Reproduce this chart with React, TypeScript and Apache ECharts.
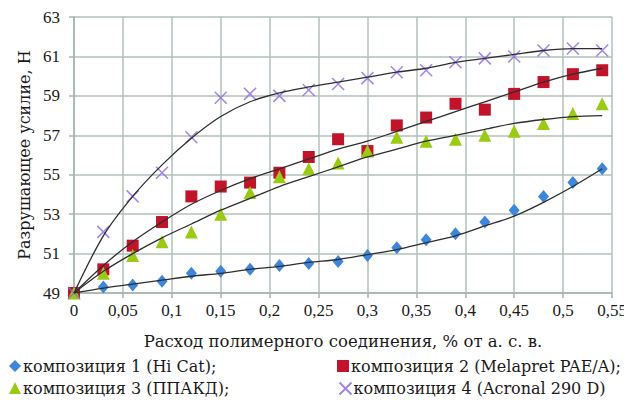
import React, { useEffect, useRef } from "react";
import * as echarts from "echarts";

const xValues = [0, 0.03, 0.06, 0.09, 0.12, 0.15, 0.18, 0.21, 0.24, 0.27, 0.3, 0.33, 0.36, 0.39, 0.42, 0.45, 0.48, 0.51, 0.54];

const seriesNames = [
  "композиция 1 (Hi Cat);",
  "композиция 2 (Melapret PAE/A);",
  "композиция 3 (ППАКД);",
  "композиция 4 (Acronal 290 D)",
];

const s1 = [49, 49.3, 49.4, 49.6, 50.0, 50.1, 50.2, 50.4, 50.5, 50.6, 50.9, 51.3, 51.7, 52.0, 52.6, 53.2, 53.9, 54.6, 55.3];
const s2 = [49, 50.2, 51.4, 52.6, 53.9, 54.4, 54.6, 55.1, 55.9, 56.8, 56.2, 57.5, 57.9, 58.6, 58.3, 59.1, 59.7, 60.1, 60.3];
const s3 = [49, 50.0, 50.9, 51.6, 52.1, 53.0, 54.1, 54.9, 55.3, 55.6, 56.2, 56.9, 56.7, 56.8, 57.0, 57.2, 57.6, 58.1, 58.6];
const s4 = [49, 52.1, 53.9, 55.1, 56.9, 58.9, 59.1, 59.0, 59.3, 59.6, 59.9, 60.2, 60.3, 60.7, 60.9, 61.0, 61.3, 61.4, 61.3];

// trend lines
const t1 = [49, 49.25, 49.45, 49.65, 49.85, 50.0, 50.2, 50.35, 50.55, 50.7, 50.95, 51.2, 51.55, 51.9, 52.4, 52.9, 53.6, 54.4, 55.3];
const t2 = [49, 50.4, 51.6, 52.6, 53.5, 54.2, 54.8, 55.3, 55.8, 56.3, 56.7, 57.2, 57.7, 58.2, 58.7, 59.2, 59.7, 60.1, 60.4];
const t3 = [49, 50.1, 51.0, 51.8, 52.5, 53.2, 53.8, 54.4, 54.9, 55.4, 55.9, 56.3, 56.7, 57.0, 57.3, 57.6, 57.8, 57.95, 58.0];
const t4 = [49, 51.9, 53.9, 55.5, 56.85, 57.95, 58.7, 59.15, 59.45, 59.7, 59.95, 60.2, 60.4, 60.7, 60.9, 61.1, 61.3, 61.4, 61.4];

const colors = ["#3d86d9", "#c1142b", "#9acb12", "#8c67e0"];
const symbols = [
  "diamond",
  "rect",
  "triangle",
  "path://M0,0 L10,10 M10,0 L0,10",
];
const symbolSizes: any[] = [[11, 13], 12, 13, 12];

const NAME_FONT = "DejaVu Serif";
const TICK_FONT = "Liberation Serif";

export default function App() {
  const ref = useRef<HTMLDivElement>(null);
  useEffect(() => {
    if (!ref.current) return;
    const chart = echarts.init(ref.current, null, { renderer: "svg" });
    const pts = [s1, s2, s3, s4];
    const trends = [t1, t2, t3, t4];
    const scatterSeries = pts.map((arr, i) => ({
      name: seriesNames[i],
      type: "scatter",
      data: arr.map((v, j) => [xValues[j], v]),
      symbol: symbols[i],
      symbolSize: symbolSizes[i],
      z: 2,
      itemStyle:
        i === 3
          ? { color: "none", borderColor: colors[i], borderWidth: 1.5 }
          : { color: colors[i], opacity: 1 },
    }));
    const lineSeries = trends.map((arr, i) => ({
      name: "trend" + i,
      type: "line",
      data: arr.map((v, j) => [xValues[j], v]),
      showSymbol: false,
      symbol: "none",
      smooth: 0.3,
      z: 3,
      silent: true,
      lineStyle: { color: "#2e2e2e", width: 1.3 },
    }));
    const legendPos = [
      [9, 358],
      [337, 358],
      [9, 380],
      [337, 380],
    ];
    chart.setOption({
      animation: false,
      backgroundColor: "#ffffff",
      grid: { left: 74, right: 20, top: 17, bottom: 112, containLabel: false },
      legend: seriesNames.map((n, i) => ({
        orient: "horizontal",
        left: legendPos[i][0],
        top: legendPos[i][1],
        padding: 0,
        itemGap: 0,
        itemWidth: 12,
        itemHeight: 12,
        textStyle: { fontFamily: NAME_FONT, fontSize: 16, color: "#1a1a1a", padding: [0, 0, 0, -3] },
        data: [n],
      })),
      xAxis: {
        type: "value",
        min: 0,
        max: 0.55,
        interval: 0.05,
        name: "Расход полимерного соединения, % от а. с. в.",
        nameLocation: "middle",
        nameGap: 40,
        nameTextStyle: { fontFamily: NAME_FONT, fontSize: 16.5, color: "#1a1a1a" },
        axisLine: { show: true, lineStyle: { color: "#a4b4ae", width: 1.5 } },
        axisTick: { show: true, length: 5, lineStyle: { color: "#a4b4ae", width: 1.5 } },
        axisLabel: {
          fontFamily: TICK_FONT,
          fontSize: 17,
          color: "#1a1a1a",
          margin: 9,
          formatter: (v: number) => String(+v.toFixed(2)).replace(".", ","),
        },
        splitLine: { show: true, lineStyle: { color: "#b2c0ba", width: 1.5 } },
      },
      yAxis: {
        type: "value",
        min: 49,
        max: 63,
        interval: 2,
        name: "Разрушающее усилие, Н",
        nameLocation: "middle",
        nameGap: 42,
        nameTextStyle: { fontFamily: NAME_FONT, fontSize: 16, color: "#1a1a1a" },
        axisLine: { show: true, lineStyle: { color: "#a4b4ae", width: 1.5 } },
        axisTick: { show: true, length: 5, lineStyle: { color: "#a4b4ae", width: 1.5 } },
        axisLabel: { fontFamily: TICK_FONT, fontSize: 17, color: "#1a1a1a", margin: 14 },
        splitLine: { show: true, lineStyle: { color: "#b2c0ba", width: 1.5 } },
      },
      series: [...scatterSeries, ...lineSeries],
    });
    return () => chart.dispose();
  }, []);
  return <div ref={ref} style={{ width: 632, height: 405, margin: -8 }} />;
}
